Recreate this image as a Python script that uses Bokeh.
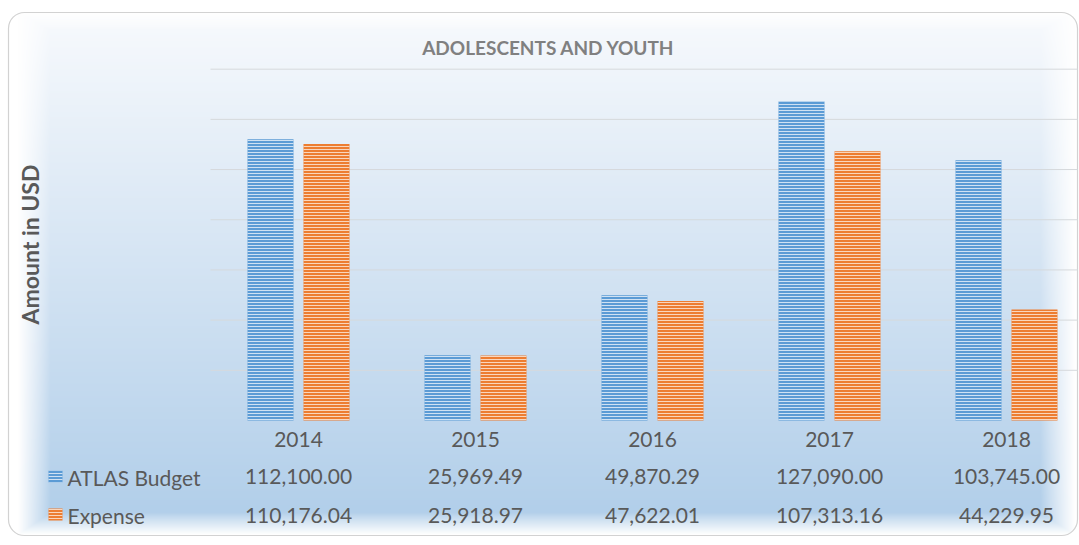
import numpy as np
from bokeh.plotting import figure
from bokeh.models import Range1d
from bokeh.embed import file_html
from bokeh.resources import INLINE
from bokeh.core.properties import value

# ---------------- data ----------------
years = ["2014", "2015", "2016", "2017", "2018"]
atlas_budget = [112100.00, 25969.49, 49870.29, 127090.00, 103745.00]
expense = [110176.04, 25918.97, 47622.01, 107313.16, 44229.95]
series_names = ["ATLAS Budget", "Expense"]
grid_ticks = [20000, 40000, 60000, 80000, 100000, 120000, 140000]
title_text = "ADOLESCENTS AND YOUTH"
y_label = "Amount in USD"

# ---------------- layout constants (page pixels) ----------------
W, H, M = 1079, 545, 0
CAT_PX = 177.0      # pixels per category
CAT0_PX = 298.0     # page x of first category centre
USD_PER_PX = 398.5
BASE_PY = 420.0     # page y of value 0


def px2x(px):
    return (px - CAT0_PX) / CAT_PX


def py2y(py):
    return (BASE_PY - py) * USD_PER_PX


x_start, x_end = px2x(M), px2x(M + W)
y_start, y_end = py2y(M + H), py2y(M)

p = figure(width=W, height=H,
           x_range=Range1d(x_start, x_end), y_range=Range1d(y_start, y_end),
           x_axis_type=None, y_axis_type=None,
           output_backend="svg", toolbar_location=None, min_border=0)
p.outline_line_color = None
p.background_fill_color = "white"
p.border_fill_color = "white"

# ---------------- background panel (gradient + glow) ----------------
L, T, R, B, RAD = 8.0, 12.0, 1077.0, 535.0, 16
cx = np.arange(W) + 0.5 + M
cy = np.arange(H) + 0.5 + M
PX, PY = np.meshgrid(cx, cy)
t = np.clip((PY - T) / (512 - T), 0, 1)
top_c = np.array([248, 250, 253], dtype=float)
bot_c = np.array([178, 207, 234], dtype=float)
rgb = top_c[None, None, :] * (1 - t[..., None]) + bot_c[None, None, :] * t[..., None]
glow = np.maximum.reduce([
    np.clip((50 - PX) / 32, 0, 1),
    np.clip((PX - 1040) / 34, 0, 1),
    np.clip((PY - 512) / 22, 0, 1),
    np.clip((30 - PY) / 18, 0, 1),
])
glow = glow ** 0.9
rgb = rgb * (1 - glow[..., None]) + 255 * glow[..., None]
qx = np.maximum.reduce([L + RAD - PX, np.zeros_like(PX), PX - (R - RAD)])
qy = np.maximum.reduce([T + RAD - PY, np.zeros_like(PY), PY - (B - RAD)])
inside = (PX >= L) & (PX <= R) & (PY >= T) & (PY <= B) & (qx ** 2 + qy ** 2 <= RAD ** 2)
rgb[~inside] = 255
img = np.empty((H, W, 4), dtype=np.uint8)
img[..., :3] = np.clip(rgb, 0, 255).astype(np.uint8)
img[..., 3] = 255
img = img[::-1].copy()
p.image_rgba(image=[img.view(np.uint32).reshape(H, W)], x=x_start, y=y_start,
             dw=x_end - x_start, dh=y_end - y_start)

p.quad(left=[px2x(L)], right=[px2x(R)], top=[py2y(T)], bottom=[py2y(B)],
       fill_color=None, line_color="#d2d2d2", line_width=1.2, border_radius=RAD)

# ---------------- grid lines ----------------
n = len(grid_ticks)
p.segment(x0=[px2x(210)] * n, y0=grid_ticks, x1=[px2x(R)] * n, y1=grid_ticks,
          line_color="#d6d9dc", line_width=1)

# ---------------- bars ----------------
idx = np.arange(len(years))
BAR_W = 46 / CAT_PX
OFF = 28 / CAT_PX
BLUE, BLUE_L = "#5b9bd5", "#cfe1f3"
ORANGE, ORANGE_L = "#ed7d31", "#f9d6bd"
p.vbar(x=idx - OFF, top=atlas_budget, bottom=0, width=BAR_W,
       fill_color=BLUE, line_color=None,
       hatch_pattern="horizontal_line", hatch_color=BLUE_L, hatch_scale=3, hatch_weight=1)
p.vbar(x=idx + OFF, top=expense, bottom=0, width=BAR_W,
       fill_color=ORANGE, line_color=None,
       hatch_pattern="horizontal_line", hatch_color=ORANGE_L, hatch_scale=3, hatch_weight=1)

# ---------------- texts ----------------
FONT = value("Lato")
TXT = "#595959"
p.text(x=[px2x(548)], y=[py2y(46.5)], text=[title_text], text_font=FONT,
       text_font_style="bold", text_font_size="19px", text_color="#808080",
       text_align="center", text_baseline="middle")
p.text(x=[px2x(29.5)], y=[py2y(244)], text=[y_label], angle=np.pi / 2,
       text_font=FONT, text_font_style="bold", text_font_size="23px", text_color=TXT,
       text_align="center", text_baseline="middle")

p.text(x=idx, y=[py2y(439)] * len(years), text=years, text_font=FONT,
       text_font_size="21px", text_color=TXT, text_align="center", text_baseline="middle")
p.text(x=idx, y=[py2y(476)] * len(years), text=[f"{v:,.2f}" for v in atlas_budget],
       text_font=FONT, text_font_size="21px", text_color=TXT,
       text_align="center", text_baseline="middle")
p.text(x=idx, y=[py2y(514.5)] * len(years), text=[f"{v:,.2f}" for v in expense],
       text_font=FONT, text_font_size="21px", text_color=TXT,
       text_align="center", text_baseline="middle")

p.text(x=[px2x(67)] * 2, y=[py2y(477), py2y(515)], text=series_names, text_font=FONT,
       text_font_size="21px", text_color=TXT, text_align="left", text_baseline="middle")
p.rect(x=[px2x(55)], y=[py2y(476)], width=14, height=12, width_units="screen",
       height_units="screen", fill_color=BLUE, line_color=None,
       hatch_pattern="horizontal_line", hatch_color=BLUE_L, hatch_scale=3, hatch_weight=1)
p.rect(x=[px2x(55)], y=[py2y(514)], width=14, height=12, width_units="screen",
       height_units="screen", fill_color=ORANGE, line_color=None,
       hatch_pattern="horizontal_line", hatch_color=ORANGE_L, hatch_scale=3, hatch_weight=1)

open("out.html", "w").write(file_html(p, INLINE))
